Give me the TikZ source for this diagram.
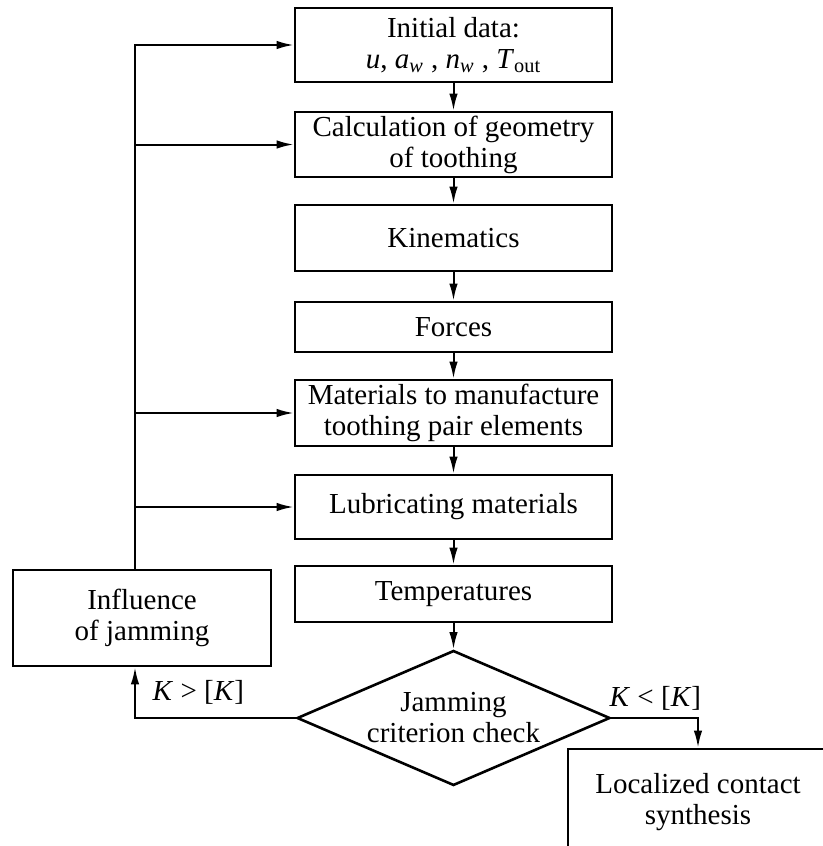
\documentclass[tikz,border=0pt]{standalone}
\usepackage{fontspec}
\setmainfont{Liberation Serif}
\usetikzlibrary{shapes.geometric, arrows.meta}
\tikzset{
    blk/.style={draw, line width=1.3pt, minimum width=158.5pt, align=center,
        inner sep=1pt, font=\fontsize{14.5}{15.5}\selectfont},
    chk/.style={draw, diamond, line width=1.3pt, minimum width=156.5pt, minimum height=67.5pt,
        aspect=2.3, inner sep=0pt, align=center, font=\fontsize{14.5}{15.5}\selectfont},
    lnk/.style={-{Latex[length=8.5pt, width=4.2pt]}, line width=1pt},
    lbl/.style={font=\fontsize{14.5}{15.5}\selectfont}
}
\begin{document}
\begin{tikzpicture}[x=0.5pt, y=-0.5pt]
    \useasboundingbox (0,0) rectangle (823,846);

    % 1. Các khối chính
    \node[blk, minimum height=37pt] (init) at (453.5,45)
        {Initial data:\\ \textit{u}, \textit{a}\textsubscript{\textit{w}} , \textit{n}\textsubscript{\textit{w}} , \textit{T}\textsubscript{out}};
    \node[blk, minimum height=32.5pt] (geom) at (453.5,144.5) {Calculation of geometry\\ of toothing};
    \node[blk, minimum height=33pt] (kin) at (453.5,238) {Kinematics};
    \node[blk, minimum height=25pt] (frc) at (453.5,327) {Forces};
    \node[blk, minimum height=33pt] (mat) at (453.5,413) {Materials to manufacture\\ toothing pair elements};
    \node[blk, minimum height=32pt] (lub) at (453.5,507) {Lubricating materials};
    \node[blk, minimum height=28pt] (temp) at (453.5,594) {Temperatures};
    \node[chk] (jam) at (453.5,718) {Jamming\\ criterion check};
    \node[blk, minimum width=129pt, minimum height=48pt] (infl) at (142,618) {Influence\\ of jamming};
    \node[blk, minimum width=130pt, minimum height=53pt] (loc) at (698,802) {Localized contact\\ synthesis};

    % 2. Mũi tên dọc
    \draw[lnk] (init) -- (geom);
    \draw[lnk] (geom) -- (kin);
    \draw[lnk] (kin) -- (frc);
    \draw[lnk] (frc) -- (mat);
    \draw[lnk] (mat) -- (lub);
    \draw[lnk] (lub) -- (temp);
    \draw[lnk] (temp) -- (jam);

    % 3. Nhánh phản hồi bên trái
    \coordinate (spine) at (135,0);
    \draw[lnk] (jam.west) -| (spine |- infl.south)
        node[pos=0.75, right, xshift=5pt, lbl] {\textit{K} > [\textit{K}]};
    \draw[lnk] (spine |- infl.north) |- (init.west);
    \draw[lnk] (spine |- geom.west) -- (geom.west);
    \draw[lnk] (spine |- mat.west) -- (mat.west);
    \draw[lnk] (spine |- lub.west) -- (lub.west);

    % 4. Nhánh bên phải
    \draw[lnk] (jam.east) -| (loc.north)
        node[pos=0.3, above, xshift=-4pt, lbl] {\textit{K} < [\textit{K}]};
\end{tikzpicture}
\end{document}
